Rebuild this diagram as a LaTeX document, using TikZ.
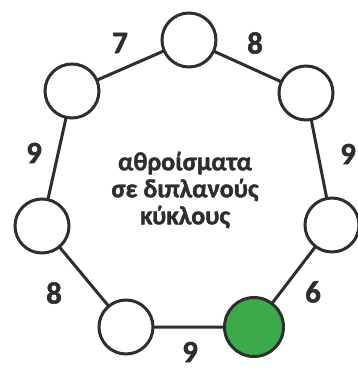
\documentclass[tikz,border=0pt]{standalone}
\usepackage{fontspec}
\setmainfont{Carlito}[BoldFont={Carlito Bold},BoldFeatures={FakeBold=1.6}]
\definecolor{ink}{HTML}{2E2E2E}
\definecolor{leafgreen}{HTML}{3BAA4A}
\begin{document}
\begin{tikzpicture}[x=1pt,y=-1pt,
  ring/.style={circle,draw=ink,line width=3pt,fill=white,minimum size=54pt,inner sep=0pt},
  link/.style={draw=ink,line width=3pt},
  num/.style={text=ink,font=\bfseries\fontsize{31}{31}\selectfont,inner sep=0pt},
  caption/.style={text=ink,font=\bfseries\fontsize{26}{27}\selectfont,align=center,inner sep=0pt}]
\useasboundingbox (0,0) rectangle (358,372);
\clip (0,0) rectangle (358,372);
\coordinate (cT) at (189,40);
\coordinate (cUL) at (72,91);
\coordinate (cUR) at (306,93);
\coordinate (cL) at (42,226);
\coordinate (cR) at (332,225);
\coordinate (cBL) at (126,327);
\coordinate (cBR) at (254,327);
\draw[link] (cT) -- (cUL) -- (cL) -- (cBL) -- (cBR) -- (cR) -- (cUR) -- (cT);
\node[ring] (T) at (cT) {};
\node[ring] (UL) at (cUL) {};
\node[ring] (UR) at (cUR) {};
\node[ring] (L) at (cL) {};
\node[ring] (R) at (cR) {};
\node[ring] (BL) at (cBL) {};
\node[ring,fill=leafgreen,minimum size=59pt] (BR) at (cBR) {};
\node[num] (n1) at (120,43) {7};
\node[num] (n2) at (255,43) {8};
\node[num] (n3) at (34,153) {9};
\node[num] (n4) at (348,154) {9};
\node[num] (n5) at (54,293) {8};
\node[num] (n6) at (313,292) {6};
\node[num] (n7) at (190,352) {9};
\node[caption] (txt) at (185,190) {αθροίσματα\\σε διπλανούς\\κύκλους};
\end{tikzpicture}
\end{document}
